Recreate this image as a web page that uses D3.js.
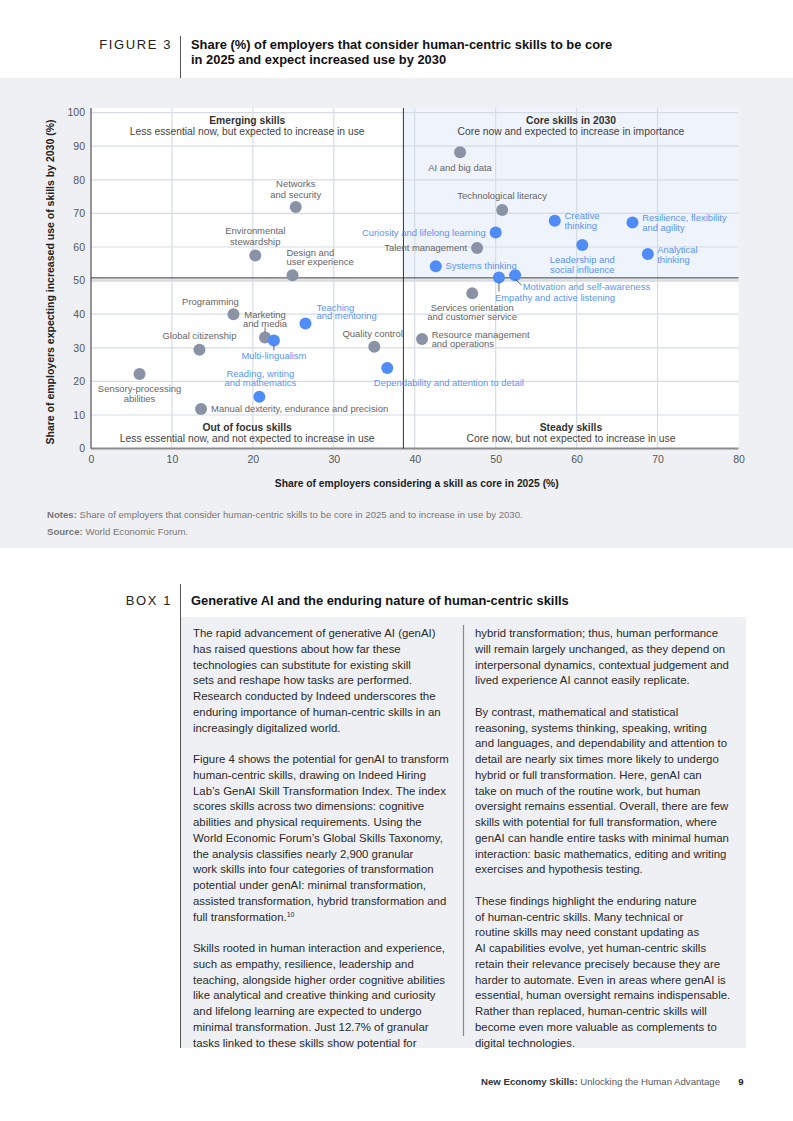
<!DOCTYPE html>
<html>
<head>
<meta charset="utf-8">
<script src="https://cdn.jsdelivr.net/npm/d3@7/dist/d3.min.js"></script>
<style>
body { margin: 0; background: #fff; }
svg { display: block; font-family: "Liberation Sans", Arial, sans-serif; }
</style>
</head>
<body>
<svg id="page" width="793" height="1121"></svg>
<script>
// skills (gray = other skills, blue = human-centric)
var skills = [
	"AI and big data", "Networks and security", "Technological literacy", "Environmental stewardship",
	"Talent management", "Design and user experience", "Services orientation and customer service",
	"Programming", "Marketing and media", "Global citizenship", "Quality control",
	"Resource management and operations", "Sensory-processing abilities",
	"Manual dexterity, endurance and precision",
	"Curiosity and lifelong learning", "Creative thinking", "Resilience, flexibility and agility",
	"Leadership and social influence", "Analytical thinking", "Systems thinking",
	"Empathy and active listening", "Motivation and self-awareness", "Teaching and mentoring",
	"Multi-lingualism", "Reading, writing and mathematics", "Dependability and attention to detail"
];
var coreShare2025 = [45.6, 25.3, 50.8, 20.3, 47.7, 24.9, 47.1, 17.6, 21.5, 13.4, 35.0, 40.9, 6.0, 13.6,
	50.0, 57.3, 66.9, 60.7, 68.8, 42.6, 50.4, 52.4, 26.5, 22.6, 20.8, 36.6];
var increaseBy2030 = [88.2, 71.9, 71.0, 57.5, 59.7, 51.6, 46.2, 40.0, 33.1, 29.4, 30.3, 32.6, 22.2, 11.8,
	64.3, 67.8, 67.3, 60.6, 57.9, 54.3, 50.9, 51.6, 37.2, 32.2, 15.4, 24.0];
var humanCentric = [0,0,0,0,0,0,0,0,0,0,0,0,0,0, 1,1,1,1,1,1,1,1,1,1,1,1];

var xTicks = [0, 10, 20, 30, 40, 50, 60, 70, 80];
var yTicks = [0, 10, 20, 30, 40, 50, 60, 70, 80, 90, 100];
var xSplit = 38.6, ySplit = 50.8;

var quadrants = [
	{title: "Emerging skills", sub: "Less essential now, but expected to increase in use", side: "left", pos: "top"},
	{title: "Core skills in 2030", sub: "Core now and expected to increase in importance", side: "right", pos: "top"},
	{title: "Out of focus skills", sub: "Less essential now, and not expected to increase in use", side: "left", pos: "bottom"},
	{title: "Steady skills", sub: "Core now, but not expected to increase in use", side: "right", pos: "bottom"}
];

// label placement: anchor, dx, first line dy, line gap, lines, optional leader line
var labelLayout = [
	["middle", 0, 15, 0, ["AI and big data"]],
	["middle", 0, -23, 11, ["Networks", "and security"]],
	["middle", 0, -14, 0, ["Technological literacy"]],
	["middle", 0, -24.6, 11, ["Environmental", "stewardship"]],
	["end", -10, 0, 0, ["Talent management"]],
	["start", -6, -22.6, 9.3, ["Design and", "user experience"]],
	["middle", 0, 14.4, 9.3, ["Services orientation", "and customer service"]],
	["middle", -23, -13, 0, ["Programming"]],
	["middle", 0, -22.3, 8.8, ["Marketing", "and media"], [0, -5, 0, -10]],
	["middle", 0, -14, 0, ["Global citizenship"]],
	["middle", -1.6, -13, 0, ["Quality control"]],
	["start", 9.6, -4.3, 9, ["Resource management", "and operations"]],
	["middle", 0, 14.7, 10, ["Sensory-processing", "abilities"]],
	["start", 10, 0, 0, ["Manual dexterity, endurance and precision"]],
	["end", -10, 0, 0, ["Curiosity and lifelong learning"]],
	["start", 9.7, -4.7, 10, ["Creative", "thinking"]],
	["start", 9.7, -4.6, 10, ["Resilience, flexibility", "and agility"]],
	["middle", 0, 15, 10, ["Leadership and", "social influence"]],
	["start", 9.3, -4.3, 10.3, ["Analytical", "thinking"]],
	["start", 9.7, 0, 0, ["Systems thinking"]],
	["start", -4, 20, 0, ["Empathy and active listening"], [0, 5, 0, 14]],
	["start", 7.6, 11.4, 0, ["Motivation and self-awareness"], [0, 4, 6.5, 10]],
	["start", 11, -16.4, 8.8, ["Teaching", "and mentoring"]],
	["middle", 0, 15.4, 0, ["Multi-lingualism"], [0, 5, 0, 10]],
	["middle", 1, -23, 9, ["Reading, writing", "and mathematics"]],
	["start", -13.4, 14.7, 0, ["Dependability and attention to detail"]]
];

var leftCol = [
	"The rapid advancement of generative AI (genAI)",
	"has raised questions about how far these",
	"technologies can substitute for existing skill",
	"sets and reshape how tasks are performed.",
	"Research conducted by Indeed underscores the",
	"enduring importance of human-centric skills in an",
	"increasingly digitalized world.",
	"",
	"Figure 4 shows the potential for genAI to transform",
	"human-centric skills, drawing on Indeed Hiring",
	"Lab\u2019s GenAI Skill Transformation Index. The index",
	"scores skills across two dimensions: cognitive",
	"abilities and physical requirements. Using the",
	"World Economic Forum\u2019s Global Skills Taxonomy,",
	"the analysis classifies nearly 2,900 granular",
	"work skills into four categories of transformation",
	"potential under genAI: minimal transformation,",
	"assisted transformation, hybrid transformation and",
	"full transformation.^10",
	"",
	"Skills rooted in human interaction and experience,",
	"such as empathy, resilience, leadership and",
	"teaching, alongside higher order cognitive abilities",
	"like analytical and creative thinking and curiosity",
	"and lifelong learning are expected to undergo",
	"minimal transformation. Just 12.7% of granular",
	"tasks linked to these skills show potential for"
];
var rightCol = [
	"hybrid transformation; thus, human performance",
	"will remain largely unchanged, as they depend on",
	"interpersonal dynamics, contextual judgement and",
	"lived experience AI cannot easily replicate.",
	"",
	"By contrast, mathematical and statistical",
	"reasoning, systems thinking, speaking, writing",
	"and languages, and dependability and attention to",
	"detail are nearly six times more likely to undergo",
	"hybrid or full transformation. Here, genAI can",
	"take on much of the routine work, but human",
	"oversight remains essential. Overall, there are few",
	"skills with potential for full transformation, where",
	"genAI can handle entire tasks with minimal human",
	"interaction: basic mathematics, editing and writing",
	"exercises and hypothesis testing.",
	"",
	"These findings highlight the enduring nature",
	"of human-centric skills. Many technical or",
	"routine skills may need constant updating as",
	"AI capabilities evolve, yet human-centric skills",
	"retain their relevance precisely because they are",
	"harder to automate. Even in areas where genAI is",
	"essential, human oversight remains indispensable.",
	"Rather than replaced, human-centric skills will",
	"become even more valuable as complements to",
	"digital technologies."
];

window.onload = function(){
	var svg = d3.select('#page');

	// figure header
	svg.append('text').attr('x', 172).attr('y', 48.5).attr('text-anchor', 'end')
		.style('font-size', '13px').style('letter-spacing', '1.6px').style('fill', '#222')
		.text('FIGURE 3');
	svg.append('line').attr('x1', 180.5).attr('x2', 180.5).attr('y1', 36).attr('y2', 78)
		.style('stroke', '#555').style('stroke-width', 1);
	var ft = svg.append('text').attr('x', 191).attr('y', 48.5)
		.style('font-size', '12.9px').style('font-weight', 'bold').style('fill', '#111');
	ft.append('tspan').attr('x', 191).text("Share (%) of employers that consider human-centric skills to be core");
	ft.append('tspan').attr('x', 191).attr('dy', 15).text("in 2025 and expect increased use by 2030");

	// gray band
	svg.append('rect').attr('x', 0).attr('y', 78).attr('width', 793).attr('height', 470)
		.style('fill', '#eff0f3');

	var x = d3.scaleLinear().domain([0, 80]).range([91, 738.5]);
	var y = d3.scaleLinear().domain([0, 100]).range([448.6, 112.6]);
	var top = 108, bottom = y(0), left = x(0), right = x(80);

	var g = svg.append('g');
	g.append('rect').attr('x', left).attr('y', top).attr('width', right - left).attr('height', bottom - top)
		.style('fill', '#fff');
	g.append('rect').attr('x', x(xSplit)).attr('y', top).attr('width', right - x(xSplit)).attr('height', y(ySplit) - top)
		.style('fill', '#eef3fc');

	// grid
	g.selectAll('.vgrid').data(xTicks.slice(1, -1)).enter().append('line')
		.attr('x1', function(d){ return x(d) }).attr('x2', function(d){ return x(d) })
		.attr('y1', top).attr('y2', bottom)
		.style('stroke', '#d6dce4').style('stroke-width', 1.2);
	g.selectAll('.hgrid').data(yTicks.slice(1)).enter().append('line')
		.attr('x1', left).attr('x2', right)
		.attr('y1', function(d){ return y(d) }).attr('y2', function(d){ return y(d) })
		.style('stroke', '#d6dce4').style('stroke-width', function(d){ return d == 50 ? 2.5 : 1.2 });

	// axes
	var xAxis = d3.axisBottom(x).tickValues(xTicks).tickSize(0).tickPadding(7);
	var yAxis = d3.axisLeft(y).tickValues(yTicks).tickSize(0).tickPadding(6);
	var gx = g.append('g').attr('transform', 'translate(0,' + bottom + ')').call(xAxis);
	var gy = g.append('g').attr('transform', 'translate(' + left + ',0)').call(yAxis);
	gx.select('.domain').remove();
	gy.select('.domain').remove();
	g.selectAll('.tick text').style('font-size', '10.5px').style('fill', '#555')
		.style('font-family', '"Liberation Sans", Arial, sans-serif');
	g.append('line').attr('x1', left).attr('x2', right).attr('y1', bottom).attr('y2', bottom)
		.style('stroke', '#8c8c8c').style('stroke-width', 2);
	g.append('line').attr('x1', left).attr('x2', left).attr('y1', top).attr('y2', bottom)
		.style('stroke', '#333').style('stroke-width', 1);

	// quadrant split lines
	g.append('line').attr('x1', x(xSplit)).attr('x2', x(xSplit)).attr('y1', top).attr('y2', bottom)
		.style('stroke', '#333').style('stroke-width', 1);
	g.append('line').attr('x1', left).attr('x2', right).attr('y1', y(ySplit)).attr('y2', y(ySplit))
		.style('stroke', '#333').style('stroke-width', 1);

	// quadrant titles
	quadrants.forEach(function(q){
		var cx = q.side == 'left' ? (left + x(xSplit)) / 2 : (x(xSplit) + right) / 2;
		var ty = q.pos == 'top' ? 124 : 430.5;
		var t = g.append('text').attr('x', cx).attr('y', ty).attr('text-anchor', 'middle')
			.style('font-size', '10.3px').style('fill', '#333');
		t.append('tspan').attr('x', cx).style('font-weight', 'bold').text(q.title);
		t.append('tspan').attr('x', cx).attr('dy', 11).style('fill', '#444').text(q.sub);
	});

	// axis titles
	g.append('text').attr('x', (left + right) / 2 + 2).attr('y', 487).attr('text-anchor', 'middle')
		.style('font-size', '10.3px').style('font-weight', 'bold').style('fill', '#222')
		.text('Share of employers considering a skill as core in 2025 (%)');
	g.append('text').attr('transform', 'translate(54,' + 282 + ') rotate(-90)').attr('text-anchor', 'middle')
		.style('font-size', '10.5px').style('font-weight', 'bold').style('fill', '#222')
		.text('Share of employers expecting increased use of skills by 2030 (%)');

	// points
	var idx = d3.range(skills.length);
	var blue = '#4f8cf7', gray = '#8a93a5';
	g.selectAll('circle').data(idx).enter().append('circle')
		.attr('cx', function(i){ return x(coreShare2025[i]) })
		.attr('cy', function(i){ return y(increaseBy2030[i]) })
		.attr('r', 6)
		.style('fill', function(i){ return humanCentric[i] ? blue : gray });

	// labels (one text per skill, lines as tspans)
	idx.forEach(function(i){
		var L = labelLayout[i];
		var px = x(coreShare2025[i]), py = y(increaseBy2030[i]);
		var col = humanCentric[i] ? '#5b94f5' : '#666';
		if (L[5]) {
			g.append('line').attr('x1', px + L[5][0]).attr('y1', py + L[5][1])
				.attr('x2', px + L[5][2]).attr('y2', py + L[5][3])
				.style('stroke', '#444').style('stroke-width', 0.8);
		}
		var t = g.append('text').attr('y', py + L[2]).attr('text-anchor', L[0])
			.style('font-size', '9.45px').style('fill', col);
		L[4].forEach(function(line, k){
			t.append('tspan').attr('x', px + L[1])
				.attr('dy', k == 0 ? '0.35em' : L[3])
				.text(line);
		});
	});

	// notes
	var notes = [["Notes:", " Share of employers that consider human-centric skills to be core in 2025 and to increase in use by 2030."],
		["Source:", " World Economic Forum."]];
	notes.forEach(function(n, i){
		var t = svg.append('text').attr('x', 47).attr('y', 518 + i*16.5)
			.style('font-size', '9.6px').style('fill', '#777');
		t.append('tspan').style('font-weight', 'bold').text(n[0]);
		t.append('tspan').text(n[1]);
	});

	// box 1
	svg.append('text').attr('x', 172).attr('y', 604.5).attr('text-anchor', 'end')
		.style('font-size', '13px').style('letter-spacing', '1.6px').style('fill', '#222')
		.text('BOX 1');
	svg.append('text').attr('x', 191).attr('y', 604.5)
		.style('font-size', '12.9px').style('font-weight', 'bold').style('fill', '#111')
		.text('Generative AI and the enduring nature of human-centric skills');
	svg.append('rect').attr('x', 181).attr('y', 617).attr('width', 565).attr('height', 431)
		.style('fill', '#eff0f3');
	svg.append('line').attr('x1', 180.5).attr('x2', 180.5).attr('y1', 584).attr('y2', 1048)
		.style('stroke', '#555').style('stroke-width', 1);
	svg.append('line').attr('x1', 463.5).attr('x2', 463.5).attr('y1', 625).attr('y2', 1036)
		.style('stroke', '#888').style('stroke-width', 1.2);

	function column(lines, x0){
		lines.forEach(function(s, i){
			if (!s) return;
			var t = svg.append('text').attr('x', x0).attr('y', 637 + i*15.75)
				.style('font-size', '11.4px').style('fill', '#2a2a2a');
			var parts = s.split('^');
			t.append('tspan').text(parts[0]);
			if (parts[1]) t.append('tspan').attr('dy', -4).style('font-size', '7px').text(parts[1]);
		});
	}
	column(leftCol, 193);
	column(rightCol, 475);

	// footer
	var f = svg.append('text').attr('x', 720).attr('y', 1085).attr('text-anchor', 'end')
		.style('font-size', '9.6px').style('fill', '#333');
	f.append('tspan').style('font-weight', 'bold').text('New Economy Skills:');
	f.append('tspan').style('fill', '#555').text(' Unlocking the Human Advantage');
	svg.append('text').attr('x', 741).attr('y', 1085).attr('text-anchor', 'middle')
		.style('font-size', '9.6px').style('font-weight', 'bold').style('fill', '#222').text('9');
};
</script>
</body>
</html>
